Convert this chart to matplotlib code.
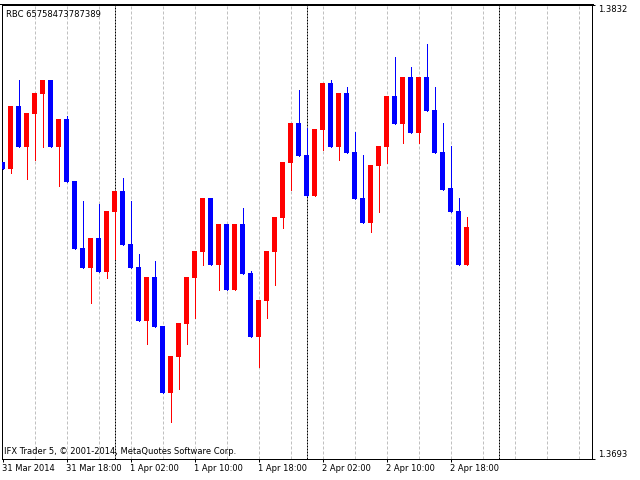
import matplotlib
matplotlib.use("Agg")
import matplotlib.pyplot as plt
from matplotlib.lines import Line2D

# Hourly candles, 31 Mar 2014 10:00 onward
opens = [1.37838, 1.37817, 1.38010, 1.37884, 1.37986, 1.38047, 1.38089, 1.37884, 1.37970, 1.37780,
         1.37575, 1.37516, 1.37608, 1.37504, 1.37685, 1.37749, 1.37587, 1.37519, 1.37354, 1.37486,
         1.37338, 1.37133, 1.37243, 1.37344, 1.37485, 1.37563, 1.37728, 1.37525, 1.37648, 1.37446,
         1.37648, 1.37498, 1.37305, 1.37415, 1.37563, 1.37667, 1.37835, 1.37958, 1.37860, 1.37734,
         1.37937, 1.38081, 1.37884, 1.38050, 1.37869, 1.37728, 1.37654, 1.37826, 1.37884, 1.38041,
         1.37955, 1.38099, 1.37927, 1.38099, 1.37998, 1.37869, 1.37759, 1.37688, 1.37525]
highs = [1.37838, 1.38010, 1.38089, 1.37989, 1.38050, 1.38089, 1.38089, 1.37970, 1.37979, 1.37780,
         1.37719, 1.37608, 1.37710, 1.37688, 1.37749, 1.37789, 1.37719, 1.37557, 1.37486, 1.37537,
         1.37338, 1.37246, 1.37347, 1.37486, 1.37566, 1.37728, 1.37728, 1.37648, 1.37648, 1.37648,
         1.37698, 1.37507, 1.37418, 1.37566, 1.37670, 1.37838, 1.37958, 1.38059, 1.37943, 1.37940,
         1.38081, 1.38089, 1.38050, 1.38068, 1.37930, 1.37860, 1.37829, 1.37887, 1.38041, 1.38160,
         1.38099, 1.38130, 1.38099, 1.38200, 1.38068, 1.37958, 1.37887, 1.37728, 1.37670]
lows = [1.37817, 1.37805, 1.37884, 1.37786, 1.37845, 1.37884, 1.37884, 1.37765, 1.37777, 1.37572,
        1.37516, 1.37407, 1.37504, 1.37485, 1.37542, 1.37584, 1.37516, 1.37354, 1.37283, 1.37335,
        1.37133, 1.37044, 1.37145, 1.37283, 1.37363, 1.37525, 1.37525, 1.37446, 1.37446, 1.37446,
        1.37495, 1.37305, 1.37212, 1.37363, 1.37464, 1.37636, 1.37755, 1.37857, 1.37734, 1.37734,
        1.37875, 1.37884, 1.37845, 1.37866, 1.37725, 1.37654, 1.37624, 1.37685, 1.37835, 1.37955,
        1.37897, 1.37927, 1.37897, 1.37995, 1.37866, 1.37755, 1.37685, 1.37525, 1.37525]
closes = [1.37817, 1.38010, 1.37884, 1.37989, 1.38050, 1.38089, 1.37884, 1.37970, 1.37777, 1.37572,
          1.37516, 1.37608, 1.37504, 1.37688, 1.37749, 1.37584, 1.37516, 1.37354, 1.37486, 1.37335,
          1.37133, 1.37246, 1.37347, 1.37486, 1.37566, 1.37728, 1.37525, 1.37648, 1.37446, 1.37648,
          1.37495, 1.37305, 1.37418, 1.37566, 1.37670, 1.37838, 1.37958, 1.37857, 1.37734, 1.37940,
          1.38081, 1.37884, 1.38050, 1.37866, 1.37725, 1.37654, 1.37829, 1.37887, 1.38041, 1.37955,
          1.38099, 1.37927, 1.38099, 1.37995, 1.37866, 1.37755, 1.37685, 1.37525, 1.37639]

time_tick_pos = [0, 8, 16, 24, 32, 40, 48, 56]
time_tick_labels = ["31 Mar 2014", "31 Mar 18:00", "1 Apr 02:00", "1 Apr 10:00",
                    "1 Apr 18:00", "2 Apr 02:00", "2 Apr 10:00", "2 Apr 18:00"]
grid_pos = list(range(4, 74, 4))
day_sep_pos = [14, 38, 62]
price_ticks = [1.3693, 1.3832]
price_labels = ["1.3693", "1.3832"]
symbol_text = "RBC 65758473787389"
footer_text = "IFX Trader 5, \u00a9 2001-2014, MetaQuotes Software Corp."

UP = "#FF0000"
DOWN = "#0000FF"
PX = 0.72  # one pixel in points at 100 dpi

fig = plt.figure(figsize=(6.4, 4.8), dpi=100)
fig.patch.set_facecolor("white")
ax = fig.add_axes([2 / 640, 21 / 480, 590 / 640, 454 / 480])
ax.set_facecolor("white")
ax.set_xlim(-0.0625, 73.6875)
ax.set_ylim(price_ticks[0], price_ticks[1])

for g in grid_pos:
    ax.axvline(g, color="#C0C0C0", lw=PX, linestyle=(0, (3, 2)), zorder=1)
for d in day_sep_pos:
    ax.axvline(d, color="black", lw=PX, linestyle=(0, (2, 1)), zorder=1)

xs = list(range(len(opens)))
cols = [UP if c >= o else DOWN for o, c in zip(opens, closes)]
ax.vlines(xs, lows, highs, colors=cols, lw=PX, zorder=2, antialiased=False)
bottoms = [min(o, c) for o, c in zip(opens, closes)]
heights = [max(abs(c - o), 0.00001) for o, c in zip(opens, closes)]
ax.bar(xs, heights, bottom=bottoms, width=0.625, color=cols, linewidth=0,
       zorder=3, antialiased=False)

for s in ["left", "right", "bottom", "top"]:
    ax.spines[s].set_linewidth(PX)
    ax.spines[s].set_color("black")

ax.set_xticks(time_tick_pos)
ax.set_xticklabels(time_tick_labels, fontsize=6, family="DejaVu Sans")
for lbl in ax.get_xticklabels():
    lbl.set_ha("left")
ax.tick_params(axis="x", direction="out", length=2.2, width=PX, pad=1.2, color="black")

ax.yaxis.tick_right()
ax.set_yticks(price_ticks)
ax.set_yticklabels(price_labels, fontsize=6, family="DejaVu Sans")
ylbls = ax.get_yticklabels()
ylbls[0].set_va("bottom")
ylbls[1].set_va("top")
ax.tick_params(axis="y", direction="out", length=2.2, width=PX, pad=2, color="black")

ax.text(4 / 590, 1 - 9 / 454, symbol_text, transform=ax.transAxes, fontsize=6,
        family="DejaVu Sans", ha="left", va="center", zorder=5)
ax.text(2 / 590, 7 / 454, footer_text, transform=ax.transAxes, fontsize=6,
        family="DejaVu Sans", ha="left", va="center", zorder=5)

# extra top frame line of the chart window
fig.add_artist(Line2D([0, 592.5 / 640], [1 - 3.5 / 480, 1 - 3.5 / 480],
                      color="black", lw=PX, transform=fig.transFigure))

fig.savefig("out.png", dpi=100)
